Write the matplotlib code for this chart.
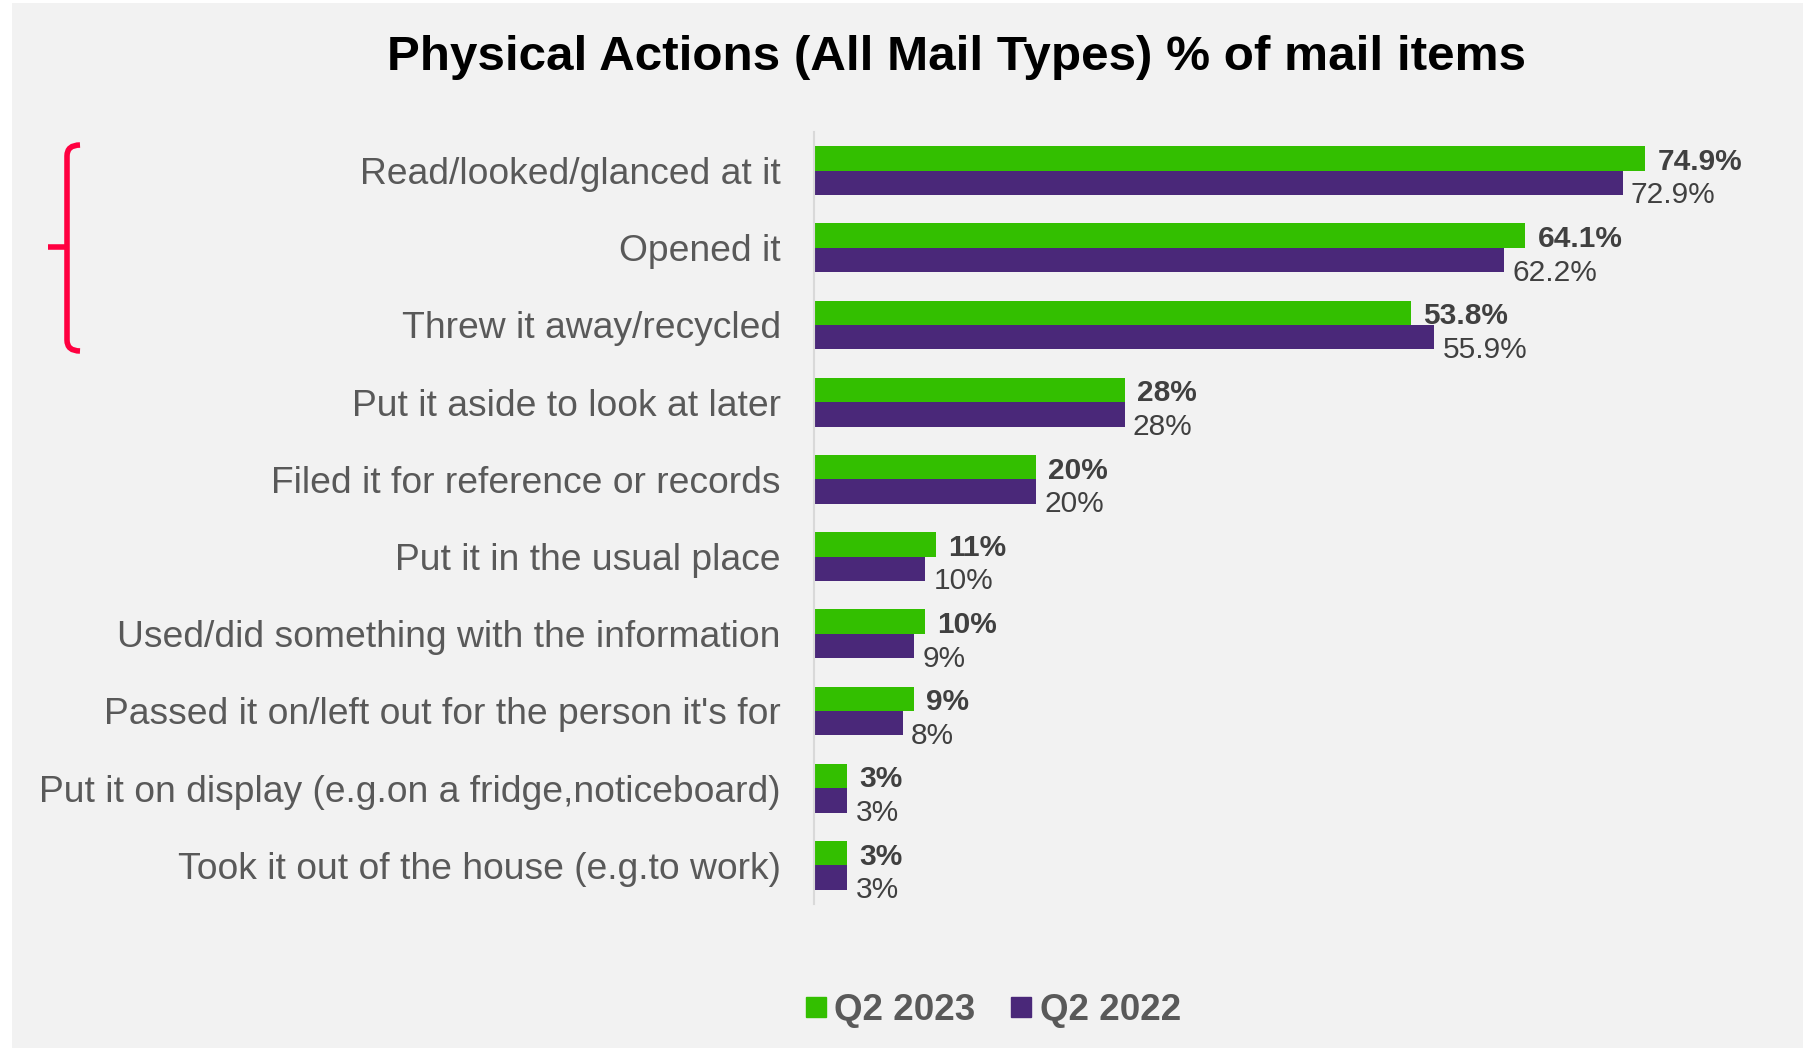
import matplotlib
matplotlib.use("Agg")
import matplotlib.pyplot as plt
from matplotlib.path import Path
from matplotlib.patches import PathPatch, Rectangle
from matplotlib.lines import Line2D

plt.rcParams["font.family"] = ["Liberation Sans", "DejaVu Sans"]

categories = [
    "Read/looked/glanced at it",
    "Opened it",
    "Threw it away/recycled",
    "Put it aside to look at later",
    "Filed it for reference or records",
    "Put it in the usual place",
    "Used/did something with the information",
    "Passed it on/left out for the person it's for",
    "Put it on display (e.g.on a fridge,noticeboard)",
    "Took it out of the house (e.g.to work)",
]
q2_2023 = [74.9, 64.1, 53.8, 28, 20, 11, 10, 9, 3, 3]
q2_2022 = [72.9, 62.2, 55.9, 28, 20, 10, 9, 8, 3, 3]
labels_2023 = ["74.9%", "64.1%", "53.8%", "28%", "20%", "11%", "10%", "9%", "3%", "3%"]
labels_2022 = ["72.9%", "62.2%", "55.9%", "28%", "20%", "10%", "9%", "8%", "3%", "3%"]
series_names = ["Q2 2023", "Q2 2022"]

GREEN = "#33BF00"
PURPLE = "#4A2879"
BG = "#F2F2F2"

W, H = 1806, 1048
fig = plt.figure(figsize=(W / 100, H / 100), dpi=100)
fig.patch.set_facecolor("white")


def fx(px):
    return px / W


def fy(py):
    return 1 - py / H


# grey panel behind everything
fig.patches.append(Rectangle((fx(12), 0), fx(1791), fy(3), transform=fig.transFigure,
                             facecolor=BG, edgecolor="none", zorder=-10))

ax = fig.add_axes([fx(814), fy(904), fx(1779 - 814), fy(132) - fy(904)])
ax.set_facecolor("none")

h = 0.317
y = list(range(len(categories)))
ax.barh([v - h / 2 for v in y], q2_2023, height=h, color=GREEN, zorder=2)
ax.barh([v + h / 2 for v in y], q2_2022, height=h, color=PURPLE, zorder=2)

for i in y:
    ax.annotate(labels_2023[i], (q2_2023[i], i - h / 2), xytext=(9, -2.5),
                textcoords="offset points", ha="left", va="center",
                fontsize=21.5, fontweight="bold", color="#404040")
    ax.annotate(labels_2022[i], (q2_2022[i], i + h / 2), xytext=(6, -9),
                textcoords="offset points", ha="left", va="center",
                fontsize=21.5, color="#404040")

ax.set_xlim(0, 87)
ax.set_ylim(len(categories) - 0.5, -0.5)
ax.set_yticks(y)
ax.set_yticklabels(categories, fontsize=26.8, color="#595959")
ax.tick_params(axis="y", length=0, pad=24)
ax.set_xticks([])
for s in ["top", "right", "bottom"]:
    ax.spines[s].set_visible(False)
ax.spines["left"].set_color("#D9D9D9")
ax.spines["left"].set_linewidth(1.5)

fig.text(fx(957), fy(58), "Physical Actions (All Mail Types) % of mail items",
         ha="center", va="center", fontsize=35.6, fontweight="bold", color="black")

handles = [Line2D([], [], marker="s", linestyle="none", markersize=14,
                  markerfacecolor=c, markeredgecolor=c) for c in (GREEN, PURPLE)]
leg = fig.legend(handles, series_names, loc="center", bbox_to_anchor=(fx(992), fy(1010)),
                 ncol=2, frameon=False, handlelength=0.7, handletextpad=0.15,
                 columnspacing=0.9, prop={"size": 26.5, "weight": "bold"})
for t in leg.get_texts():
    t.set_color("#595959")

# red bracket grouping the top three answers
verts = [(fx(80), fy(145)), (fx(67), fy(145)), (fx(67), fy(156)),
         (fx(67), fy(340)), (fx(67), fy(351)), (fx(80), fy(351))]
codes = [Path.MOVETO, Path.CURVE3, Path.CURVE3, Path.LINETO, Path.CURVE3, Path.CURVE3]
fig.patches.append(PathPatch(Path(verts, codes), transform=fig.transFigure,
                             facecolor="none", edgecolor="#FF0040", linewidth=4, zorder=3))
fig.lines.append(Line2D([fx(48), fx(67)], [fy(247), fy(247)], transform=fig.transFigure,
                        color="#FF0040", linewidth=4, solid_capstyle="butt", zorder=3))

fig.savefig("out.png", dpi=100, facecolor=fig.get_facecolor())
